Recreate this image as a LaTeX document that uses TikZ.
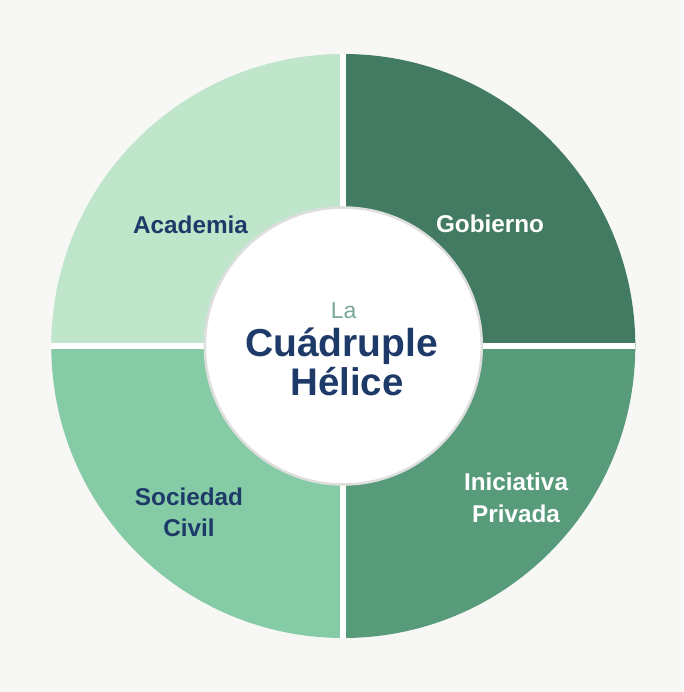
\documentclass[tikz,border=0pt]{standalone}
\usepackage{fontspec}
\setmainfont{Liberation Sans}
\definecolor{bgcol}{HTML}{F7F7F5}
\definecolor{academiacol}{HTML}{BFE6CB}
\definecolor{gobiernocol}{HTML}{427B61}
\definecolor{sociedadcol}{HTML}{85CBA5}
\definecolor{privadacol}{HTML}{579B7A}
\definecolor{navy}{HTML}{1E3A68}
\definecolor{lacol}{HTML}{7AA899}
\definecolor{ringcol}{HTML}{DEDEDE}
\begin{document}
\begin{tikzpicture}[x=1pt,y=1pt,
  lbl/.style={font=\fontsize{24.3}{31.5}\selectfont\bfseries, align=center, anchor=base, inner sep=0pt},
  gap/.style={draw=white, line width=6pt},
]
\useasboundingbox (0,0) rectangle (683,692);
\fill[bgcol] (0,0) rectangle (683,692);
\coordinate (C) at (343.3,346);
% quadrants
\fill[academiacol] (C) -- ++(90:292) arc[start angle=90, end angle=180, radius=292] -- cycle;
\fill[gobiernocol] (C) -- ++(0:292) arc[start angle=0, end angle=90, radius=292] -- cycle;
\fill[sociedadcol] (C) -- ++(180:292) arc[start angle=180, end angle=270, radius=292] -- cycle;
\fill[privadacol] (C) -- ++(270:292) arc[start angle=270, end angle=360, radius=292] -- cycle;
% gaps
\coordinate (gt) at (343.3,638);
\coordinate (gb) at (343.3,54);
\coordinate (gl) at (51.3,346);
\coordinate (gr) at (635.3,346);
\draw[gap] (gt) -- (gb);
\draw[gap] (gl) -- (gr);
% inner circle
\node[circle, fill=white, draw=ringcol, line width=2.5pt, minimum size=277pt, inner sep=0pt] (hub) at (C) {};
% labels (base = baseline of last line)
\node[lbl, text=navy] (academia) at (190.5,458.7) {Academia};
\node[lbl, text=white] (gobierno) at (490,459.3) {Gobierno};
\node[lbl, text=navy] (sociedad) at (189,155) {Sociedad\\Civil};
\node[lbl, text=white] (privada) at (516,169.7) {Iniciativa\\Privada};
% title
\node[anchor=base, inner sep=0pt, text=lacol, font=\fontsize{23}{23}\selectfont] (tla) at (343.7,373.7) {La};
\node[anchor=base, inner sep=0pt, text=navy, font=\fontsize{39}{39}\selectfont\bfseries] (t1) at (341.5,335.3) {Cuádruple};
\node[anchor=base, inner sep=0pt, text=navy, font=\fontsize{38.5}{38.5}\selectfont\bfseries] (t2) at (347,296) {Hélice};
\end{tikzpicture}
\end{document}
